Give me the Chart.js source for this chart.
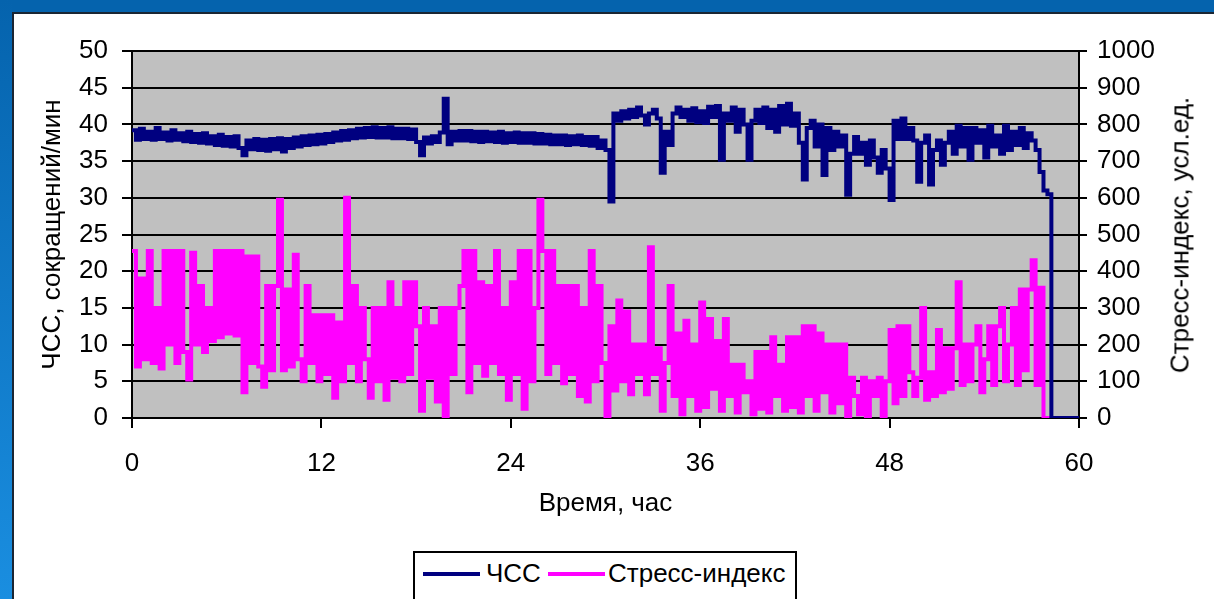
<!DOCTYPE html>
<html><head><meta charset="utf-8">
<script src="https://cdn.jsdelivr.net/npm/chart.js@4"></script>
<style>
html,body{margin:0;padding:0;width:1214px;height:599px;overflow:hidden;background:#fff;}
#frameTop{position:absolute;left:0;top:0;width:1214px;height:12px;background:#0563ad;}
#frameLeft{position:absolute;left:0;top:0;width:12px;height:599px;background:linear-gradient(#0563ad,#1a8ee0);}
#panel{position:absolute;left:12px;top:12px;right:0;bottom:0;border-left:2px solid #1b2633;border-top:2px solid #1b2633;background:#fff;}
#wrap{position:absolute;left:0;top:0;width:1214px;height:599px;}
#rtitle{position:absolute;left:1180px;top:235px;transform:translate(-50%,-50%) rotate(-90deg);font:26px "Liberation Sans";color:#000;white-space:nowrap;}
#legend{position:absolute;left:413px;top:551px;width:380px;height:60px;border:2px solid #000;background:#fff;font:26px "Liberation Sans";color:#000;}
#legend .ln{position:absolute;top:19px;height:4px;width:57px;}
#legend .tx{position:absolute;top:5px;line-height:30px;white-space:nowrap;}
</style></head>
<body>
<div id="frameTop"></div><div id="frameLeft"></div><div id="panel"></div>
<div id="wrap"><canvas id="c" width="1214" height="599"></canvas></div>
<div id="rtitle">Стресс-индекс, усл.ед.</div>
<div id="legend">
  <span class="ln" style="left:8px;background:#000080"></span><span class="tx" style="left:71px">ЧСС</span>
  <span class="ln" style="left:133px;background:#ff00ff"></span><span class="tx" style="left:193px">Стресс-индекс</span>
</div>
<script>
// sampling step of both series, hours
const HOUR_STEP = 0.25;
const xTickValues = [0, 12, 24, 36, 48, 60];
const seriesNames = ['ЧСС', 'Стресс-индекс'];

// ЧСС, 4 samples per hour (0 .. 60 h)
const hrValues = [
 39.2,37.9,39.4,38.0, 39.0,37.9,39.5,38.0, 38.9,37.8,39.2,37.9, 38.8,37.7,39.0,37.6,
 38.7,37.5,38.8,37.4, 38.4,37.2,38.6,37.1, 38.3,37.0,38.4,36.8, 35.8,37.8,36.6,38.0,
 36.5,37.9,36.4,38.0, 36.6,38.1,36.3,38.0, 36.8,38.2,37.0,38.4, 37.2,38.5,37.3,38.6,
 37.4,38.7,37.6,38.9, 37.8,39.1,37.9,39.2, 38.1,39.4,38.2,39.5, 38.3,39.6,38.2,39.5,
 38.2,39.6,38.1,39.4, 38.1,39.4,38.0,39.3, 37.6,35.8,38.2,37.4, 38.4,37.6,38.9,43.5,
 37.3,39.0,37.8,39.1, 37.8,39.1,37.7,39.0, 37.6,39.0,37.7,38.9, 37.6,39.0,37.5,38.8,
 37.6,38.9,37.5,38.8, 37.5,38.8,37.4,38.7, 37.4,38.6,37.3,38.5, 37.3,38.5,37.2,38.4,
 37.3,38.5,37.2,38.3, 37.1,38.3,36.8,37.8, 36.5,29.5,41.5,40.5, 41.8,40.8,42.0,41.0,
 42.3,41.2,40.0,41.5, 42.0,40.8,33.4,39.0, 37.2,41.5,42.3,41.0, 42.0,40.5,42.2,40.3,
 41.8,40.2,42.4,41.0, 42.5,35.2,41.5,40.5, 42.3,39.0,42.0,40.0, 35.2,40.5,42.0,40.2,
 42.3,39.5,42.0,39.0, 42.5,40.0,42.8,39.8, 41.5,37.5,32.5,39.5, 40.5,37.0,40.0,33.1,
 39.5,36.5,39.0,37.0, 38.5,30.4,36.0,38.3, 36.0,37.5,34.5,37.8, 35.5,33.4,36.5,34.0,
 29.7,40.5,38.0,40.8, 38.0,39.5,37.8,32.2, 37.5,38.5,31.8,36.5, 37.8,34.5,37.5,39.0,
 36.0,39.8,37.0,39.5, 35.2,39.5,37.5,39.2, 35.5,39.8,37.0,38.5, 36.0,39.8,36.5,39.0,
 37.2,39.5,36.8,38.8, 37.8,36.5,33.5,31.0, 30.5,0,0,0, 0,0,0,0, 0
];

// Стресс-индекс, 4 samples per hour (0 .. 60 h)
const stressValues = [
 455,140,380,160, 455,150,300,135, 455,200,455,150, 455,180,105,450,
 200,360,180,300, 210,455,220,455, 230,455,225,455, 70,440,150,440,
 140,85,360,130, 360,595,130,350, 140,445,160,100, 360,150,280,100,
 280,120,280,55, 260,100,600,150, 360,100,300,160, 55,300,100,300,
 50,370,110,300, 100,370,120,370, 250,20,300,110, 250,45,300,5,
 300,120,300,360, 455,70,455,150, 370,115,360,150, 455,120,300,50,
 370,120,455,25, 455,100,300,595, 455,120,455,150, 360,95,360,120,
 360,60,300,45, 455,100,360,150, 0,250,75,320, 100,290,65,200,
 120,200,65,465, 120,190,20,150, 360,60,230,10, 265,60,200,20,
 315,30,270,80, 210,20,270,60, 145,15,145,70, 100,10,180,25,
 180,15,220,60, 145,20,220,30, 220,15,250,60, 250,20,230,70,
 200,15,200,40, 200,5,110,60, 10,110,5,100, 60,110,5,100,
 240,40,250,60, 250,125,60,110, 300,50,125,60, 240,70,190,80,
 190,370,90,200, 100,200,250,70, 160,250,90,250, 300,100,200,300,
 90,350,130,350, 430,90,355,0, 0,0,0,0, 0,0,0,0, 0
];

const toPoints = arr => arr.map((v, i) => ({ x: i * HOUR_STEP, y: v }));

const FONT = { family: 'Liberation Sans', size: 26 };
Chart.defaults.font.family = 'Liberation Sans';
Chart.defaults.color = '#000';

const plotBg = {
  id: 'plotBg',
  beforeDraw(chart) {
    const { ctx, chartArea: a } = chart;
    ctx.save();
    ctx.fillStyle = '#c0c0c0';
    ctx.fillRect(a.left, a.top, a.right - a.left, a.bottom - a.top);
    ctx.restore();
  }
};

new Chart(document.getElementById('c'), {
  type: 'line',
  data: {
    datasets: [
      { label: seriesNames[0], data: toPoints(hrValues), yAxisID: 'y', stepped: true,
        borderColor: '#000080', borderWidth: 4, pointRadius: 0, tension: 0, fill: false },
      { label: seriesNames[1], data: toPoints(stressValues), yAxisID: 'y2', stepped: true,
        borderColor: '#ff00ff', borderWidth: 4, pointRadius: 0, tension: 0, fill: false }
    ]
  },
  options: {
    responsive: false,
    animation: false,
    events: [],
    layout: { padding: { left: 0, right: 0, top: 51, bottom: 80 } },
    plugins: { legend: { display: false }, tooltip: { enabled: false } },
    scales: {
      x: {
        type: 'linear', position: 'bottom', min: 0, max: 60,
        afterBuildTicks: s => { s.ticks = xTickValues.map(v => ({ value: v })); },
        grid: { drawOnChartArea: false, drawTicks: true, tickLength: 10, color: '#000', lineWidth: 2 },
        border: { display: true, color: '#000', width: 2 },
        ticks: { font: FONT, color: '#000', padding: 20, maxRotation: 0, autoSkip: false,
                 callback: v => String(v) },
        title: { display: true, text: 'Время, час', font: FONT, color: '#000', padding: 0 },
        afterFit: s => { s.height = 101; }
      },
      y: {
        position: 'left', min: 0, max: 50,
        ticks: { stepSize: 5, font: FONT, color: '#000', padding: 14, callback: v => String(v) },
        grid: { color: '#000', lineWidth: 2, tickLength: 10, drawTicks: true },
        border: { display: true, color: '#000', width: 2 },
        title: { display: true, text: 'ЧСС, сокращений/мин', font: FONT, color: '#000', padding: { top: 37, bottom: 0 } },
        afterFit: s => { s.width = 132; }
      },
      y2: {
        position: 'right', min: 0, max: 1000,
        ticks: { stepSize: 100, font: FONT, color: '#000', padding: 10, callback: v => String(v) },
        grid: { drawOnChartArea: false, drawTicks: true, tickLength: 8, color: '#000', lineWidth: 2 },
        border: { display: true, color: '#000', width: 2 },
        afterFit: s => { s.width = 135; }
      }
    }
  },
  plugins: [plotBg]
});
</script>
</body></html>
